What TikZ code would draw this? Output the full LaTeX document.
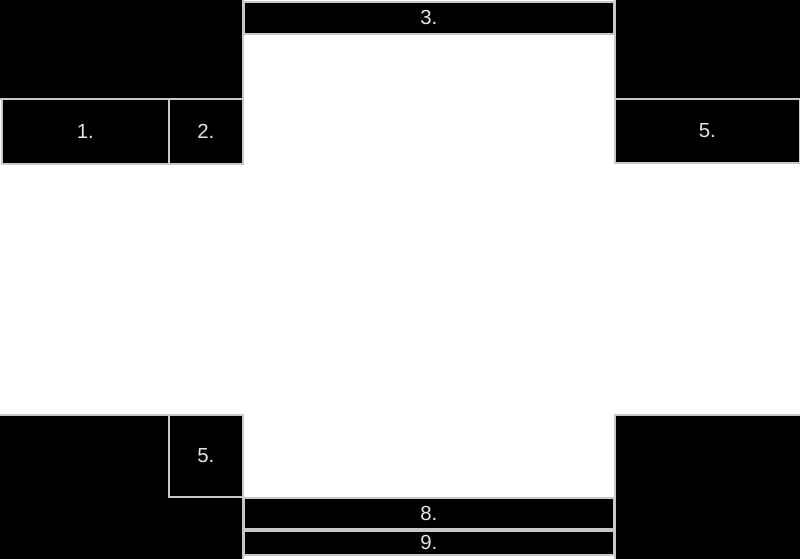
\documentclass[tikz,border=0pt]{standalone}
\usepackage{fontspec}
\setmainfont{Liberation Sans}
\definecolor{edge}{RGB}{200, 200, 200}
\definecolor{label}{RGB}{228, 228, 228}
\tikzset{cell/.style={draw=edge, fill=black, line width=1.1pt, anchor=north west,
                      inner sep=0pt, text=label, font=\fontsize{14.5}{17}\selectfont}}

\begin{document}
\begin{tikzpicture}[x=0.025cm, y=-0.025cm]

  \useasboundingbox (0, 0) rectangle (800, 558);
  \clip (0, 0) rectangle (800, 558);

  % corner blocks first, the labelled cells over them
  \foreach \x/\y/\w/\h/\name/\lab in {-2/-2/244/100/topleft/{},
                                      614/-2/188/100/topright/{},
                                      -2/414/244/146/bottomleft/{},
                                      614/414/188/146/bottomright/{},
                                      1/98/167/65/one/1.,
                                      168/98/74/65/two/2.,
                                      243/1/370/32/three/3.,
                                      614/98/185/64/fiveright/5.,
                                      168/414/74/82/fiveleft/5.,
                                      243/497/370/31/eight/8.,
                                      243/530/370/24/nine/9.} {
    \node[cell, minimum width={\w * 0.025cm}, minimum height={\h * 0.025cm}]
      (\name) at (\x, \y) {\lab};
  }

\end{tikzpicture}
\end{document}
